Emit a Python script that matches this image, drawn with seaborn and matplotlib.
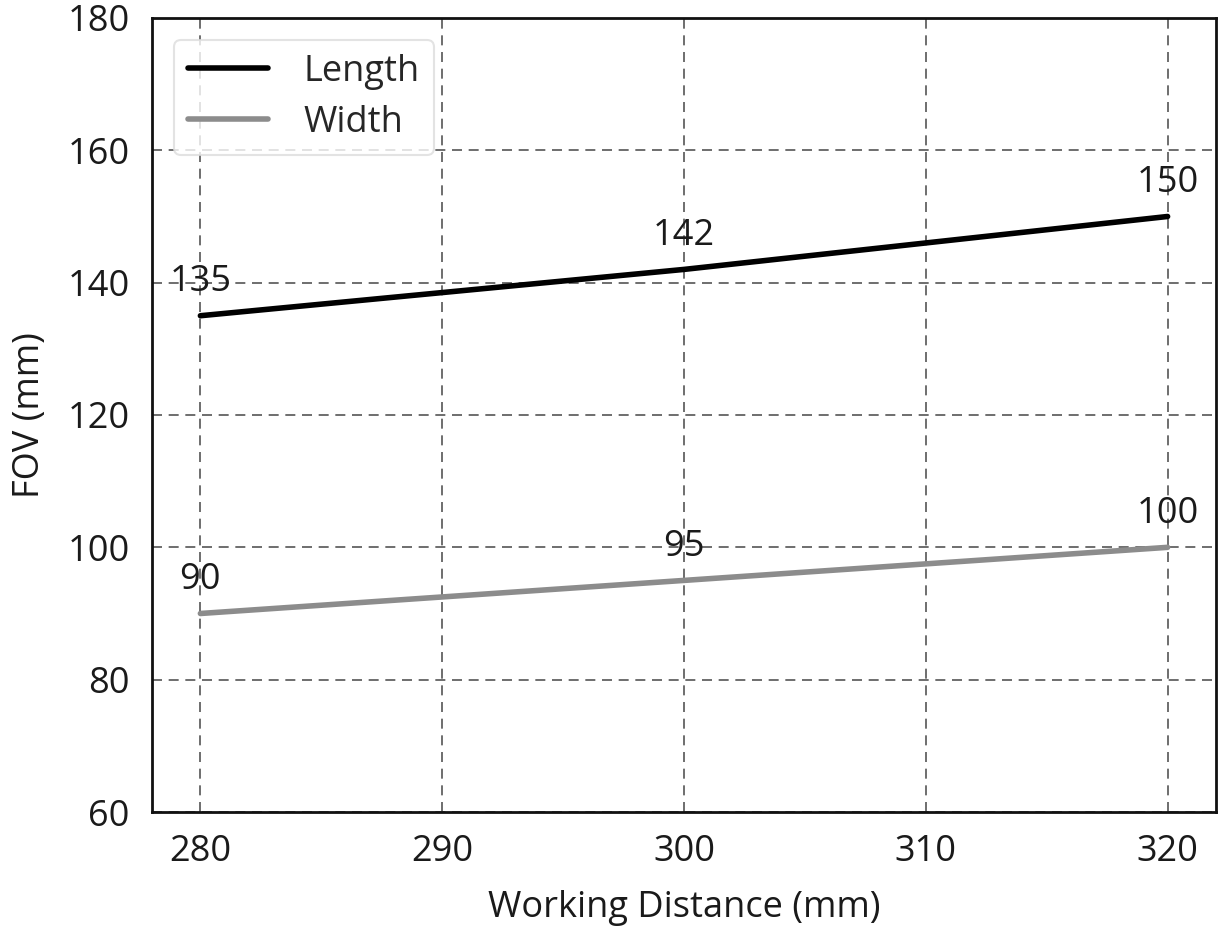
import pandas as pd
import seaborn as sns
import matplotlib.pyplot as plt

# data
distance = [280, 300, 320]
length_fov = [135, 142, 150]
width_fov = [90, 95, 100]
series_names = ["Length", "Width"]
series_colors = ["#000000", "#8c8c8c"]

df = pd.DataFrame(
    {
        "Working Distance (mm)": distance * 2,
        "FOV (mm)": length_fov + width_fov,
        "Series": [series_names[0]] * len(distance) + [series_names[1]] * len(distance),
    }
)

sns.set_style("white")
plt.rcParams["font.family"] = ["Open Sans", "DejaVu Sans"]
FS = 26

fig = plt.figure(figsize=(12.2, 9.26), dpi=100)
ax = fig.add_axes([0.1246, 0.1231, 0.8721, 0.8575])

sns.lineplot(
    data=df,
    x="Working Distance (mm)",
    y="FOV (mm)",
    hue="Series",
    palette=dict(zip(series_names, series_colors)),
    linewidth=4,
    ax=ax,
)

# value labels above every point
for xs, ys in [(distance, length_fov), (distance, width_fov)]:
    for x, y in zip(xs, ys):
        ax.annotate(
            str(y), (x, y), xytext=(0, 11), textcoords="offset points",
            ha="center", va="bottom", fontsize=FS, color="#1a1a1a",
        )

ax.set_xlim(278, 322)
ax.set_ylim(60, 180)
ax.set_xticks([280, 290, 300, 310, 320])
ax.set_yticks([60, 80, 100, 120, 140, 160, 180])
ax.grid(True, linestyle=(0, (6, 4)), color="#555555", linewidth=1.2)
ax.set_axisbelow(True)
for sp in ax.spines.values():
    sp.set_color("#111111")
    sp.set_linewidth(2)
ax.tick_params(axis="both", labelsize=FS, length=0, pad=16, colors="#1a1a1a")
ax.set_xlabel("Working Distance (mm)", fontsize=FS, labelpad=14, color="#1a1a1a")
ax.set_ylabel("FOV (mm)", fontsize=FS, labelpad=14, color="#1a1a1a")

leg = ax.legend(
    loc="upper left", fontsize=FS, frameon=True, fancybox=True,
    edgecolor="#dddddd", handlelength=2.2, handletextpad=1.0,
    borderaxespad=0.6, labelspacing=0.4, title=None,
)
leg.get_frame().set_linewidth(1.5)

fig.savefig("out.png", dpi=100)
